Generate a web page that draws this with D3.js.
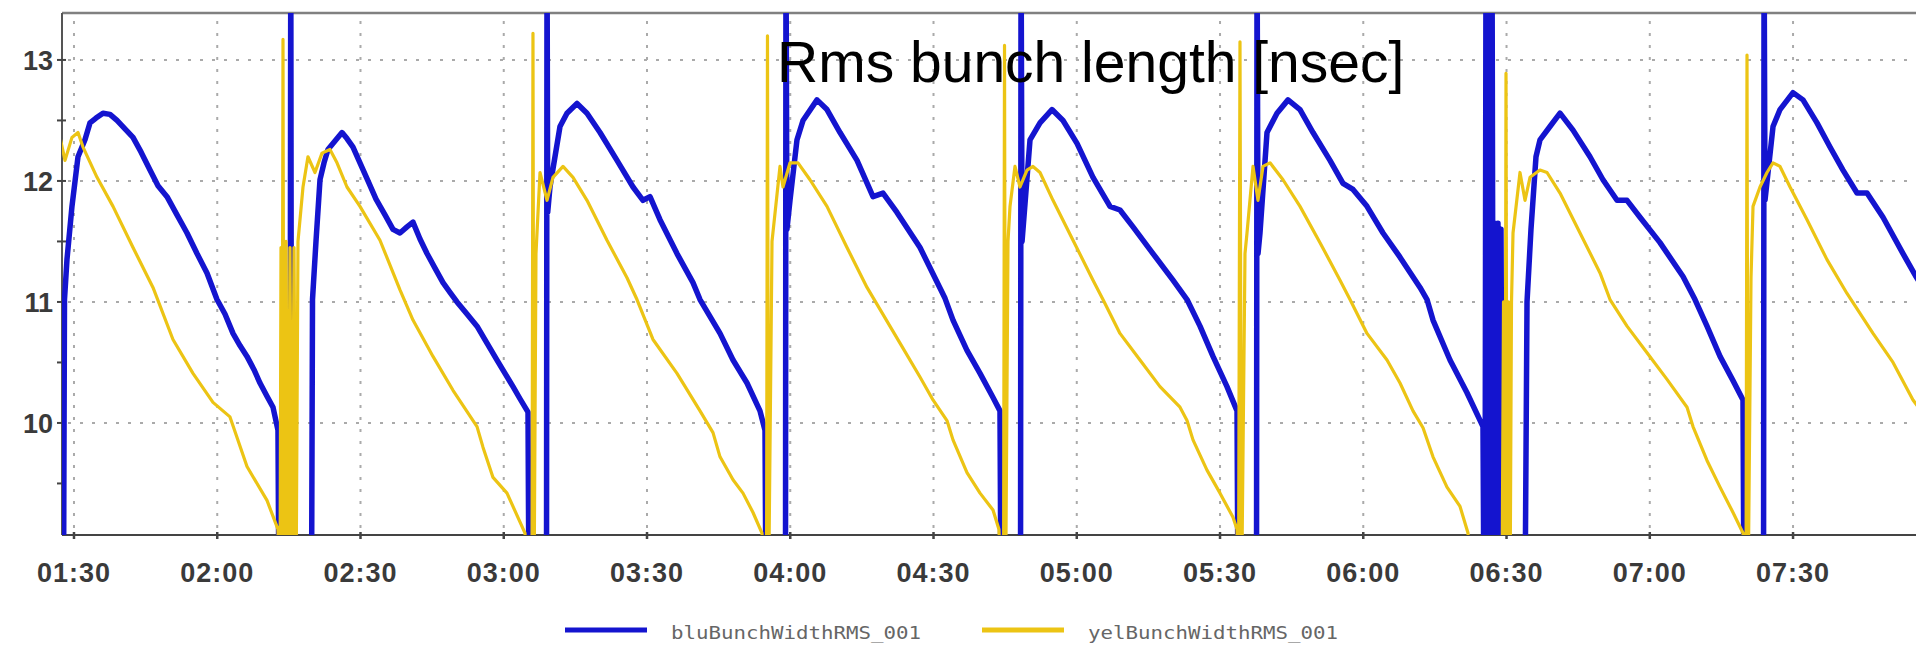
<!DOCTYPE html>
<html>
<head>
<meta charset="utf-8">
<script src="https://cdn.jsdelivr.net/npm/d3@7"></script>
<style>
  body { margin: 0; background: #fff; }
  svg { display: block; }
</style>
</head>
<body>
<svg id="chart" width="1916" height="645"></svg>
<script>
// time is minutes after midnight, value is rms bunch length in nsec
// 8.5 / 14 mean the signal ran off the bottom / top of the plot
let bluRms = [
    // fill 1
    [87.07, 8.5], [87.80, 8.5], [88.01, 11.02], [88.53, 11.35], [89.58, 11.79], [90.84, 12.2],
    [92.30, 12.34], [93.35, 12.48], [94.61, 12.52], [96.07, 12.56], [97.54, 12.55], [99.01, 12.5],
    [100.68, 12.43], [102.36, 12.36], [104.03, 12.24], [105.92, 12.09], [107.59, 11.96], [109.48, 11.87],
    [111.57, 11.72], [113.67, 11.57], [115.76, 11.40], [117.85, 11.24], [119.95, 11.02], [121.62, 10.9],
    [123.30, 10.74], [124.76, 10.64], [126.23, 10.55], [127.70, 10.44], [128.95, 10.33], [130.42, 10.22],
    [131.68, 10.13], [132.72, 9.94], [132.93, 8.5],
    [135.23, 8.5], [135.40, 14], [135.57, 8.5],
    // fill 2
    [139.74, 8.5], [139.95, 11.02], [140.68, 11.5], [141.52, 12.01], [142.36, 12.15], [143.19, 12.26],
    [144.66, 12.33], [146.13, 12.40], [147.17, 12.35], [148.43, 12.28], [149.89, 12.15], [151.57, 12.0],
    [153.25, 11.85], [155.13, 11.72], [156.81, 11.6], [158.27, 11.57], [159.74, 11.62], [160.99, 11.66],
    [162.46, 11.52], [163.93, 11.40], [165.60, 11.28], [167.28, 11.16], [168.74, 11.08], [170.21, 11.0],
    [172.30, 10.9], [174.40, 10.8], [176.49, 10.66], [178.59, 10.52], [180.26, 10.41], [181.94, 10.30],
    [183.40, 10.2], [185.08, 10.09], [185.29, 8.5],
    // fill 3
    [188.95, 8.5], [189.06, 14], [189.20, 11.74], [189.68, 11.95], [191.78, 12.45],
    [193.24, 12.56], [195.34, 12.64], [197.43, 12.56], [200.16, 12.4], [203.72, 12.17], [207.07, 11.95],
    [209.16, 11.84], [210.63, 11.87], [212.72, 11.68], [216.28, 11.4], [219.63, 11.16], [221.10, 11.02],
    [225.29, 10.74], [228.01, 10.52], [230.94, 10.33], [233.66, 10.1], [234.71, 9.94], [234.92, 8.5],
    // fill 4
    [239.00, 8.5], [239.10, 14], [239.30, 11.6], [239.95, 11.84], [241.41, 12.34],
    [242.67, 12.5], [245.60, 12.67], [247.69, 12.59], [250.42, 12.4], [253.98, 12.17], [257.33, 11.87],
    [259.42, 11.9], [262.35, 11.74], [267.17, 11.45], [272.41, 11.03], [274.08, 10.85], [277.01, 10.6],
    [279.74, 10.41], [282.46, 10.21], [283.92, 10.1], [284.13, 8.5],
    // fill 5
    [288.22, 8.5], [288.33, 14], [288.54, 11.5], [290.21, 12.34], [292.30, 12.48],
    [294.81, 12.59], [297.12, 12.5], [300.05, 12.31], [303.40, 12.03], [306.96, 11.79], [309.05, 11.76],
    [311.78, 11.62], [315.96, 11.4], [320.15, 11.18], [323.09, 11.02], [325.81, 10.8], [328.53, 10.55],
    [331.46, 10.3], [333.56, 10.1], [333.77, 8.5],
    // fill 6
    [337.64, 8.5], [337.75, 14], [337.96, 11.4], [338.37, 11.57], [339.84, 12.4],
    [341.93, 12.56], [344.24, 12.67], [346.75, 12.59], [349.47, 12.4], [353.03, 12.17], [355.75, 11.98],
    [357.85, 11.93], [360.78, 11.79], [364.13, 11.57], [367.69, 11.37], [371.88, 11.12], [373.35, 11.02],
    [374.60, 10.85], [378.16, 10.52], [381.72, 10.25], [385.07, 9.97], [385.28, 8.5],
    // 06:25 dump and refill glitches
    [385.49, 8.5], [385.70, 14], [386.02, 8.5], [386.33, 14], [386.64, 8.5], [386.96, 14],
    [387.27, 8.5], [387.59, 11.65], [387.90, 8.5], [388.21, 11.65], [388.53, 8.5], [388.84, 11.6],
    [389.16, 8.5],
    // fill 7
    [393.87, 8.5], [394.29, 11.0], [395.12, 11.6], [396.17, 12.2], [397.01, 12.34], [399.10, 12.45],
    [401.20, 12.56], [403.92, 12.42], [407.48, 12.2], [410.20, 12.01], [413.14, 11.84], [415.23, 11.84],
    [417.95, 11.7], [422.14, 11.49], [426.96, 11.21], [429.47, 11.02], [431.98, 10.8], [434.71, 10.55],
    [437.43, 10.35], [439.52, 10.19], [439.73, 8.5],
    // fill 8
    [443.82, 8.5], [443.93, 14], [444.13, 11.84], [445.81, 12.45], [447.27, 12.59],
    [449.99, 12.73], [452.09, 12.67], [455.02, 12.48], [457.74, 12.28], [460.46, 12.09], [463.40, 11.9],
    [465.49, 11.9], [468.84, 11.7], [473.03, 11.4], [475.75, 11.21], [478.68, 11.02]
];

let yelRms = [
    // fill 1
    [87.07, 12.36], [88.12, 12.17], [89.58, 12.36], [90.84, 12.4], [91.89, 12.28], [94.82, 12.03],
    [98.17, 11.79], [102.36, 11.45], [106.54, 11.12], [110.73, 10.69], [114.92, 10.41], [119.11, 10.17],
    [122.67, 10.05], [126.23, 9.64], [130.42, 9.36], [132.72, 9.12], [133.14, 8.5],
    [133.35, 11.45], [133.56, 8.5], [133.77, 13.17], [133.98, 8.5], [134.40, 11.5], [134.82, 8.5],
    [135.23, 11.45], [135.65, 8.5], [136.08, 11.45], [136.49, 8.5],
    // fill 2
    [136.91, 11.5], [137.96, 11.95], [139.00, 12.2], [140.47, 12.07], [141.94, 12.23], [143.61, 12.26],
    [145.08, 12.15], [147.17, 11.95], [149.89, 11.79], [154.08, 11.51], [158.27, 11.1], [160.99, 10.85],
    [165.18, 10.55], [169.37, 10.27], [174.40, 9.97], [175.65, 9.8], [177.75, 9.55], [180.68, 9.42],
    [184.45, 9.09], [184.87, 8.5],
    [185.91, 8.5], [186.12, 13.22], [186.33, 8.5],
    // fill 3
    [186.75, 11.4], [187.59, 12.07], [189.06, 11.84], [190.31, 12.03], [192.41, 12.12], [194.50, 12.03],
    [197.43, 11.84], [201.62, 11.51], [205.81, 11.2], [207.90, 11.02], [211.25, 10.69], [216.28, 10.41],
    [221.10, 10.1], [223.82, 9.92], [225.29, 9.72], [228.01, 9.53], [230.10, 9.42], [232.20, 9.26],
    [234.08, 9.09], [234.50, 8.5],
    [235.02, 8.5], [235.23, 13.2], [235.44, 8.5],
    // fill 4
    [236.18, 11.5], [237.85, 12.12], [238.48, 11.95], [239.95, 12.15], [241.62, 12.15], [244.13, 12.01],
    [247.69, 11.79], [251.88, 11.45], [256.07, 11.12], [262.98, 10.66], [267.17, 10.38], [269.89, 10.19],
    [272.82, 10.02], [274.08, 9.86], [277.01, 9.59], [279.74, 9.42], [282.46, 9.28], [283.71, 9.12],
    [284.13, 8.5],
    [284.66, 8.5], [284.87, 13.12], [285.08, 8.5],
    // fill 5
    [285.60, 11.5], [286.02, 11.79], [287.06, 12.12], [288.11, 11.95], [289.58, 12.09], [290.83, 12.12],
    [292.30, 12.07], [295.02, 11.84], [299.21, 11.51], [303.40, 11.18], [305.49, 11.02], [309.05, 10.74],
    [313.24, 10.52], [317.43, 10.3], [321.62, 10.13], [323.09, 10.02], [324.34, 9.86], [327.27, 9.61],
    [330.00, 9.42], [332.72, 9.22], [333.56, 9.12], [333.87, 8.5],
    [334.18, 13.15], [334.50, 8.5],
    // fill 6
    [335.23, 11.4], [335.65, 11.57], [336.91, 12.12], [337.95, 11.84], [339.00, 12.12], [340.47, 12.15],
    [343.19, 12.01], [346.75, 11.79], [350.94, 11.49], [355.13, 11.18], [357.22, 11.02], [360.78, 10.74],
    [364.97, 10.52], [367.69, 10.33], [370.41, 10.1], [372.51, 9.96], [374.60, 9.72], [377.53, 9.47],
    [380.26, 9.31], [381.93, 9.09], [382.35, 8.5],
    [389.05, 8.5], [389.37, 11.0], [389.68, 8.5], [389.89, 12.89], [390.10, 8.5], [390.41, 11.0],
    [390.73, 8.5],
    // fill 7
    [391.04, 11.0], [391.36, 11.57], [392.82, 12.07], [393.87, 11.84], [394.92, 12.03], [397.01, 12.09],
    [398.48, 12.07], [401.20, 11.9], [405.39, 11.57], [409.58, 11.24], [411.67, 11.02], [415.23, 10.8],
    [419.42, 10.58], [423.61, 10.36], [427.80, 10.13], [429.05, 9.97], [431.98, 9.69], [434.71, 9.47],
    [437.43, 9.26], [439.52, 9.09], [439.94, 8.5],
    [440.15, 8.5], [440.36, 13.04], [440.57, 8.5],
    // fill 8
    [441.20, 11.2], [441.62, 11.79], [443.08, 11.95], [444.55, 12.07], [445.81, 12.15], [447.27, 12.12],
    [449.37, 11.95], [452.93, 11.68], [457.11, 11.35], [461.30, 11.07], [466.75, 10.74], [470.94, 10.5],
    [475.12, 10.19], [478.68, 10.0]
];

let xTickLabels = ["01:30", "02:00", "02:30", "03:00", "03:30", "04:00", "04:30",
                   "05:00", "05:30", "06:00", "06:30", "07:00", "07:30"];
let yTickValues = [10, 11, 12, 13];
let yMinorTicks = [9.5, 10, 10.5, 11, 11.5, 12, 12.5, 13];
let seriesNames = ["bluBunchWidthRMS_001", "yelBunchWidthRMS_001"];
let seriesColors = ["#1414cf", "#ecc414"];

let svg = d3.select("#chart");
let plotLeft = 62, plotTop = 13, plotRight = 1916, plotBottom = 535;

let toMinutes = s => +s.slice(0, 2) * 60 + +s.slice(3, 5);
let fmt = m => d3.format("02")(Math.floor(m / 60)) + ":" + d3.format("02")(m % 60);

let x = d3.scaleLinear().domain([87.49, 475.75]).range([plotLeft, plotRight]);
let y = d3.scaleLinear().domain([9.074, 13.388]).range([plotBottom, plotTop]);

svg.append("clipPath").attr("id", "plot")
    .append("rect")
    .attr("x", plotLeft).attr("y", plotTop)
    .attr("width", plotRight - plotLeft).attr("height", plotBottom - plotTop);

// dotted grid
let grid = svg.append("g")
    .attr("stroke", "#aaa")
    .attr("stroke-width", 2)
    .attr("stroke-dasharray", "3,9");
grid.selectAll(".vg").data(xTickLabels).enter().append("line")
    .attr("x1", d => x(toMinutes(d))).attr("x2", d => x(toMinutes(d)))
    .attr("y1", plotTop + 8).attr("y2", plotBottom);
grid.selectAll(".hg").data(yTickValues).enter().append("line")
    .attr("x1", plotLeft + 6).attr("x2", plotRight)
    .attr("y1", d => y(d)).attr("y2", d => y(d));

// frame
svg.append("line").attr("x1", plotLeft).attr("x2", plotRight).attr("y1", plotTop).attr("y2", plotTop)
    .attr("stroke", "#808080").attr("stroke-width", 2.5);
svg.append("line").attr("x1", plotLeft).attr("x2", plotRight).attr("y1", plotBottom).attr("y2", plotBottom)
    .attr("stroke", "#444").attr("stroke-width", 2);
svg.append("line").attr("x1", plotLeft).attr("x2", plotLeft).attr("y1", plotTop).attr("y2", plotBottom)
    .attr("stroke", "#555").attr("stroke-width", 2);

// y axis ticks and labels
svg.selectAll(".ymt").data(yMinorTicks).enter().append("line")
    .attr("x1", plotLeft - 5).attr("x2", plotLeft + 4)
    .attr("y1", d => y(d)).attr("y2", d => y(d))
    .attr("stroke", "#444").attr("stroke-width", 2);
svg.selectAll(".yl").data(yTickValues).enter().append("text")
    .attr("x", 53).attr("y", d => y(d)).attr("dy", "0.36em")
    .attr("text-anchor", "end")
    .attr("font-family", "Liberation Sans, Arial, sans-serif")
    .attr("font-weight", "bold").attr("font-size", 27)
    .attr("fill", "#3a3a3a")
    .text(d => d);

// x axis ticks and labels
svg.selectAll(".xt").data(xTickLabels).enter().append("line")
    .attr("x1", d => x(toMinutes(d))).attr("x2", d => x(toMinutes(d)))
    .attr("y1", plotBottom - 3).attr("y2", plotBottom + 4)
    .attr("stroke", "#444").attr("stroke-width", 2.5);
svg.selectAll(".xl").data(xTickLabels).enter().append("text")
    .attr("x", d => x(toMinutes(d))).attr("y", 582)
    .attr("text-anchor", "middle")
    .attr("font-family", "Liberation Sans, Arial, sans-serif")
    .attr("font-weight", "bold").attr("font-size", 27)
    .attr("letter-spacing", 1)
    .attr("fill", "#3a3a3a")
    .text(d => fmt(toMinutes(d)));

// traces
let line = d3.line()
    .x(d => x(d[0]))
    .y(d => y(d[1]));

let traces = svg.append("g").attr("clip-path", "url(#plot)")
    .attr("fill", "none")
    .attr("stroke-linejoin", "round");
traces.append("path").datum(bluRms)
    .attr("d", line)
    .attr("stroke", seriesColors[0])
    .attr("stroke-width", 5.5);
traces.append("path").datum(yelRms)
    .attr("d", line)
    .attr("stroke", seriesColors[1])
    .attr("stroke-width", 3.2);

// title drawn over the plot
svg.append("text")
    .attr("x", 777).attr("y", 82)
    .attr("font-family", "Liberation Sans, Arial, sans-serif")
    .attr("font-size", 57)
    .attr("fill", "#000")
    .text("Rms bunch length [nsec]");

// legend
let legendX = [565, 982];
let legend = svg.selectAll(".lg").data(seriesNames).enter().append("g");
legend.append("line")
    .attr("x1", (d, i) => legendX[i]).attr("x2", (d, i) => legendX[i] + 82)
    .attr("y1", 630).attr("y2", 630)
    .attr("stroke", (d, i) => seriesColors[i])
    .attr("stroke-width", 5);
legend.append("text")
    .attr("x", (d, i) => legendX[i] + 106).attr("y", 639)
    .attr("font-family", "DejaVu Sans Mono, monospace")
    .attr("font-size", 18)
    .attr("textLength", 250).attr("lengthAdjust", "spacingAndGlyphs")
    .attr("fill", "#666")
    .text(d => d);
</script>
</body>
</html>
